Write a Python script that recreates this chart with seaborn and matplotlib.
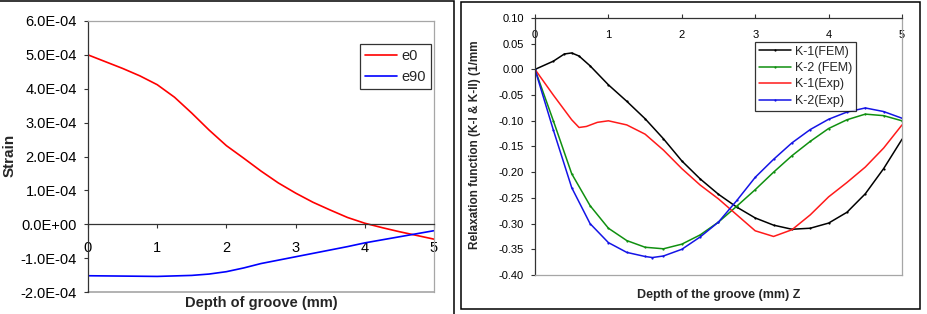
import numpy as np
import pandas as pd
import matplotlib
matplotlib.use("Agg")
import matplotlib.pyplot as plt
from matplotlib.patches import Rectangle
from matplotlib.ticker import FuncFormatter
import seaborn as sns

# ---------------- data: left panel (strain) ----------------
e0_x = [0, 0.25, 0.5, 0.75, 1.0, 1.25, 1.5, 1.75, 2.0, 2.25, 2.5, 2.75, 3.0,
        3.25, 3.5, 3.75, 4.0, 4.25, 4.5, 4.75, 5.0]
e0_y = [5.0e-4, 4.8e-4, 4.6e-4, 4.38e-4, 4.12e-4, 3.75e-4, 3.28e-4, 2.78e-4,
        2.32e-4, 1.95e-4, 1.57e-4, 1.22e-4, 0.92e-4, 0.65e-4, 0.42e-4,
        0.20e-4, 0.03e-4, -0.10e-4, -0.22e-4, -0.33e-4, -0.44e-4]
e90_x = [0, 0.5, 1.0, 1.5, 1.75, 2.0, 2.25, 2.5, 2.75, 3.0, 3.25, 3.5, 3.75,
         4.0, 4.25, 4.5, 4.75, 5.0]
e90_y = [-1.52e-4, -1.53e-4, -1.54e-4, -1.51e-4, -1.47e-4, -1.40e-4, -1.29e-4,
         -1.16e-4, -1.06e-4, -0.96e-4, -0.86e-4, -0.76e-4, -0.66e-4, -0.55e-4,
         -0.46e-4, -0.37e-4, -0.28e-4, -0.19e-4]

# ---------------- data: right panel (relaxation function) ----------------
k1fem_x = [0, 0.25, 0.4, 0.5, 0.6, 0.75, 1.0, 1.25, 1.5, 1.75, 2.0, 2.25, 2.5,
           2.75, 3.0, 3.25, 3.5, 3.75, 4.0, 4.25, 4.5, 4.75, 5.0]
k1fem_y = [0.0, 0.016, 0.030, 0.032, 0.026, 0.007, -0.030, -0.062, -0.096,
           -0.135, -0.178, -0.213, -0.243, -0.268, -0.289, -0.303, -0.311,
           -0.309, -0.299, -0.278, -0.242, -0.193, -0.136]
k2fem_x = [0, 0.25, 0.5, 0.75, 1.0, 1.25, 1.5, 1.75, 2.0, 2.25, 2.5, 2.75,
           3.0, 3.25, 3.5, 3.75, 4.0, 4.25, 4.5, 4.75, 5.0]
k2fem_y = [0.0, -0.100, -0.203, -0.265, -0.309, -0.333, -0.346, -0.349,
           -0.340, -0.322, -0.297, -0.266, -0.234, -0.200, -0.168, -0.140,
           -0.115, -0.098, -0.087, -0.090, -0.100]
k1exp_x = [0, 0.25, 0.5, 0.6, 0.7, 0.85, 1.0, 1.25, 1.5, 1.75, 2.0, 2.25, 2.5,
           2.75, 3.0, 3.25, 3.5, 3.75, 4.0, 4.25, 4.5, 4.75, 5.0]
k1exp_y = [0.0, -0.050, -0.098, -0.113, -0.111, -0.103, -0.100, -0.108,
           -0.126, -0.157, -0.193, -0.225, -0.252, -0.283, -0.314, -0.325,
           -0.312, -0.283, -0.248, -0.220, -0.190, -0.153, -0.108]
k2exp_x = [0, 0.25, 0.5, 0.75, 1.0, 1.25, 1.5, 1.6, 1.75, 2.0, 2.25, 2.5,
           2.75, 3.0, 3.25, 3.5, 3.75, 4.0, 4.25, 4.5, 4.75, 5.0]
k2exp_y = [0.0, -0.118, -0.230, -0.300, -0.337, -0.356, -0.364, -0.366,
           -0.363, -0.350, -0.326, -0.297, -0.255, -0.210, -0.175, -0.143,
           -0.117, -0.097, -0.083, -0.075, -0.082, -0.095]

left_labels = ["e0", "e90"]
right_labels = ["K-1(FEM)", "K-2 (FEM)", "K-1(Exp)", "K-2(Exp)"]
left_xticks = [0, 1, 2, 3, 4, 5]
left_yticks = [-2e-4, -1e-4, 0, 1e-4, 2e-4, 3e-4, 4e-4, 5e-4, 6e-4]
right_yticks = [-0.40, -0.35, -0.30, -0.25, -0.20, -0.15, -0.10, -0.05, 0.00, 0.05, 0.10]

sns.set_theme(style="white")
plt.rcParams["font.family"] = ["Liberation Sans", "DejaVu Sans"]

W, H = 928, 314
fig = plt.figure(figsize=(W / 100, H / 100), dpi=100)

def fx(px):
    return px / W

def fy(py):
    return 1 - py / H

# panel borders
fig.add_artist(Rectangle((fx(-5), fy(320)), fx(454 + 5), fy(0.8) - fy(320),
                         transform=fig.transFigure, fill=False,
                         edgecolor="black", linewidth=1.1))
fig.add_artist(Rectangle((fx(461), fy(309)), fx(920) - fx(461), fy(2) - fy(309),
                         transform=fig.transFigure, fill=False,
                         edgecolor="black", linewidth=1.1))

gray = "#a6a6a6"
dark = "#333333"

# ---------------- left panel ----------------
axL = fig.add_axes([fx(88), fy(292), fx(434) - fx(88), fy(21) - fy(292)])
dfL = pd.concat([
    pd.DataFrame({"x": e0_x, "y": e0_y, "s": left_labels[0]}),
    pd.DataFrame({"x": e90_x, "y": e90_y, "s": left_labels[1]}),
])
sns.lineplot(data=dfL, x="x", y="y", hue="s", palette=["#ff0000", "#0000ff"],
             linewidth=1.2, ax=axL, sort=False, estimator=None)
axL.set_xlim(0, 5)
axL.set_ylim(-2e-4, 6e-4)
axL.set_xticks(left_xticks)
axL.set_yticks(left_yticks)
axL.yaxis.set_major_formatter(FuncFormatter(lambda v, p: f"{v:.1E}"))
axL.spines["left"].set_color(dark)
axL.spines["top"].set_color(gray)
axL.spines["right"].set_color(gray)
axL.spines["bottom"].set_position(("data", 0))
axL.spines["bottom"].set_color(dark)
for sp in axL.spines.values():
    sp.set_linewidth(0.9)
axL.plot([0, 1], [0, 0], transform=axL.transAxes, color=gray, lw=1.2, clip_on=False, zorder=0)
axL.tick_params(axis="both", direction="out", length=3, width=0.8, color=dark,
                labelsize=10.5, labelcolor="black", bottom=True, left=True)
axL.tick_params(axis="x", pad=9)
axL.tick_params(axis="y", pad=5)
axL.set_xlabel("Depth of groove (mm)", fontsize=10.5, fontweight="bold")
axL.set_ylabel("Strain", fontsize=11, fontweight="bold")
axL.xaxis.set_label_coords(fx(261), fy(303), transform=fig.transFigure)
axL.xaxis.label.set_va("center")
axL.yaxis.set_label_coords(fx(10), fy(155), transform=fig.transFigure)
axL.yaxis.label.set_va("center")
legL = axL.legend(loc="upper left", bbox_to_anchor=(fx(360), fy(44)),
                  bbox_transform=fig.transFigure, frameon=True, fancybox=False,
                  edgecolor="black", fontsize=10.5, handlelength=2.2,
                  handletextpad=0.3, borderpad=0.35, labelspacing=0.45,
                  borderaxespad=0)
legL.get_frame().set_linewidth(0.9)

# ---------------- right panel ----------------
axR = fig.add_axes([fx(535), fy(275), fx(902) - fx(535), fy(18) - fy(275)])
series = [(k1fem_x, k1fem_y, "black", "o"), (k2fem_x, k2fem_y, "#109010", "o"),
          (k1exp_x, k1exp_y, "#ff1a1a", None), (k2exp_x, k2exp_y, "#1414e6", "o")]
for (xs, ys, col, mk), lab in zip(series, right_labels):
    d = pd.DataFrame({"x": xs, "y": ys})
    sns.lineplot(data=d, x="x", y="y", color=col, linewidth=1.1, ax=axR,
                 label=lab, marker=mk, markersize=1.6, markeredgewidth=0,
                 sort=False, estimator=None)
axR.set_xlim(0, 5)
axR.set_ylim(-0.40, 0.10)
axR.set_xticks(left_xticks)
axR.set_yticks(right_yticks)
axR.yaxis.set_major_formatter(FuncFormatter(lambda v, p: f"{np.round(v, 2) + 0.0:.2f}"))
axR.xaxis.tick_top()
axR.spines["left"].set_color(dark)
axR.spines["top"].set_color(dark)
axR.spines["right"].set_color(gray)
axR.spines["bottom"].set_color(gray)
for sp in axR.spines.values():
    sp.set_linewidth(0.9)
axR.tick_params(axis="both", direction="out", length=3, width=0.8, color=dark,
                labelsize=8, labelcolor="black")
axR.tick_params(axis="x", top=True, bottom=False, labeltop=True,
                labelbottom=False, pad=-18.5)
axR.tick_params(axis="y", left=True, pad=5)
axR.set_xlabel("Depth of the groove (mm) Z", fontsize=9, fontweight="bold")
axR.set_ylabel("Relaxation function (K-I & K-II) (1/mm", fontsize=8.5,
               fontweight="bold")
axR.xaxis.set_label_coords(fx(719), fy(295), transform=fig.transFigure)
axR.xaxis.label.set_va("center")
axR.yaxis.set_label_coords(fx(475), fy(145), transform=fig.transFigure)
axR.yaxis.label.set_va("center")
legR = axR.legend(loc="upper left", bbox_to_anchor=(fx(755), fy(42)),
                  bbox_transform=fig.transFigure, frameon=True, fancybox=False,
                  edgecolor="black", fontsize=9, handlelength=2.6,
                  handletextpad=0.3, borderpad=0.3, labelspacing=0.35,
                  borderaxespad=0)
legR.get_frame().set_linewidth(0.9)

fig.savefig("out.png", dpi=100)
